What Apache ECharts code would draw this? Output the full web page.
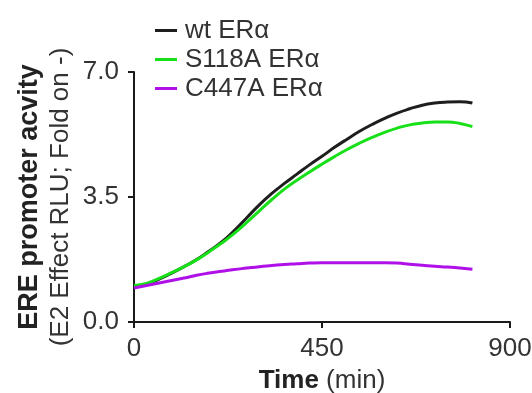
<!DOCTYPE html>
<html><head><meta charset="utf-8">
<script src="https://cdn.jsdelivr.net/npm/echarts@6/dist/echarts.min.js"></script>
<style>html,body{margin:0;padding:0;background:#fff;}#c{width:532px;height:393px;}</style>
</head><body><div id="c"></div>
<script>
const times = [0,30,60,90,120,150,180,210,240,270,300,330,360,390,420,450,480,510,540,570,600,630,660,690,720,750,780,810];
const wtValues = [0.98,1.05,1.20,1.37,1.55,1.75,1.99,2.24,2.56,2.92,3.28,3.60,3.88,4.14,4.40,4.64,4.89,5.12,5.34,5.53,5.70,5.85,5.97,6.07,6.13,6.16,6.17,6.13];
const s118aValues = [1.02,1.08,1.22,1.38,1.55,1.74,1.97,2.21,2.48,2.79,3.11,3.43,3.72,3.97,4.20,4.42,4.63,4.83,5.01,5.17,5.31,5.43,5.52,5.57,5.60,5.60,5.56,5.47];
const c447aValues = [0.95,1.02,1.09,1.16,1.23,1.31,1.37,1.42,1.47,1.51,1.55,1.58,1.61,1.63,1.65,1.66,1.66,1.66,1.66,1.66,1.66,1.65,1.62,1.59,1.56,1.54,1.51,1.48];
const seriesNames = ['wt ER\u03b1','S118A ER\u03b1','C447A ER\u03b1'];
const seriesColors = ['#1e1e1e','#18e018','#b010e8'];
const xTicks = [0,450,900];
const yTicks = [0,3.5,7];
const xTitleBold = 'Time';
const xTitleNormal = ' (min)';
const yTitle1 = 'ERE promoter acvity';
const yTitle2 = '(E2 Effect RLU; Fold on -)';

const FONT = '"Liberation Sans",Arial,sans-serif';
const chart = echarts.init(document.getElementById('c'));
const allVals = [wtValues, s118aValues, c447aValues];
chart.setOption({
  animation:false,
  backgroundColor:'#fff',
  grid:{left:134,right:22,top:72,bottom:71,outerBoundsMode:'none',containLabel:false},
  legend:{
    orient:'vertical', left:150, top:11, itemGap:0,
    itemWidth:22, itemHeight:3, icon:'rect',
    data: seriesNames.map((n,i)=>({name:n, itemStyle:{color:seriesColors[i]}})),
    textStyle:{fontFamily:FONT, fontSize:26, color:'#333', lineHeight:29, padding:[0,0,0,3]}
  },
  xAxis:{
    type:'value', min:xTicks[0], max:xTicks[xTicks.length-1], interval:450,
    axisLine:{lineStyle:{color:'#1a1a1a',width:2}},
    axisTick:{show:true,length:6,lineStyle:{color:'#1a1a1a',width:2}},
    splitLine:{show:false},
    axisLabel:{fontFamily:FONT,fontSize:26,color:'#333',margin:14},
    name:'{b|'+xTitleBold+'}{n|'+xTitleNormal+'}', nameLocation:'middle', nameGap:46,
    nameTextStyle:{rich:{b:{fontFamily:FONT,fontSize:26,fontWeight:'bold',color:'#222'},n:{fontFamily:FONT,fontSize:26,color:'#333'}}}
  },
  yAxis:{
    type:'value', min:yTicks[0], max:yTicks[yTicks.length-1], interval:3.5,
    axisLine:{show:true,lineStyle:{color:'#1a1a1a',width:2}},
    axisTick:{show:true,length:6,lineStyle:{color:'#1a1a1a',width:2}},
    splitLine:{show:false},
    axisLabel:{fontFamily:FONT,fontSize:26,color:'#333',margin:15,formatter:v=>v.toFixed(1)}
  },
  graphic:[
    {type:'text', x:30, y:197, rotation:Math.PI/2,
     style:{text:yTitle1, font:'bold 27px '+FONT, fill:'#222', align:'center', verticalAlign:'middle'}},
    {type:'text', x:61, y:197, rotation:Math.PI/2,
     style:{text:yTitle2, font:'26px '+FONT, fill:'#333', align:'center', verticalAlign:'middle'}}
  ],
  series: seriesNames.map((n,i)=>({
    name:n, type:'line', showSymbol:false, smooth:true,
    data: times.map((t,j)=>[t, allVals[i][j]]),
    lineStyle:{color:seriesColors[i], width:3},
    itemStyle:{color:seriesColors[i]}
  }))
});
</script></body></html>
